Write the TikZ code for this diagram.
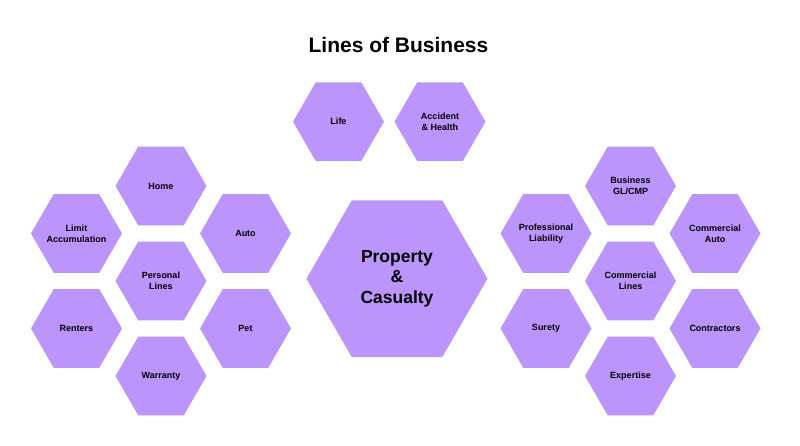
\documentclass[tikz,border=0pt]{standalone}
\usepackage{fontspec}
\setmainfont{Liberation Sans}
\usetikzlibrary{shapes.geometric, positioning}
\definecolor{lavender}{RGB}{187,148,252}

\begin{document}
\begin{tikzpicture} [node distance = 95pt, on grid,
        hex/.style = {regular polygon, regular polygon sides=6, fill=lavender,
            inner sep=0pt, minimum size=91pt, align=center,
            font=\bfseries\fontsize{9}{10.7}\selectfont},
        bighex/.style = {hex, minimum size=181pt,
            font=\bfseries\fontsize{17.5}{20.5}\selectfont}]
        \useasboundingbox (-397pt,-167.3pt) rectangle (403pt,278.7pt);

        \node (pc) [bighex] {Property\\\&\\Casualty};
        \node (title) [above right = 233.7pt and 1.5pt of pc,
            font=\bfseries\fontsize{21}{25}\selectfont] {Lines of Business};
        \node (life) [hex, above left = 157pt and 58.5pt of pc] {Life};
        \node (ah) [hex, above right = 157pt and 43pt of pc] {Accident\\\& Health};

        % personal lines
        \node (pl) [hex, below left = 2.3pt and 236pt of pc] {Personal\\Lines};
        \node (home) [hex, above = of pl] {Home};
        \node (warranty) [hex, below = of pl] {Warranty};
        \node (limit) [hex, above left = 47.5pt and 84.5pt of pl] {Limit\\\makebox[40pt]{Accumulation}};
        \node (auto) [hex, above right = 47.5pt and 84.5pt of pl] {Auto};
        \node (renters) [hex, below left = 47.5pt and 84.5pt of pl] {Renters};
        \node (pet) [hex, below right = 47.5pt and 84.5pt of pl] {Pet};

        % commercial lines
        \node (cl) [hex, below right = 2.3pt and 233.5pt of pc] {Commercial\\Lines};
        \node (gl) [hex, above = of cl] {Business\\GL/CMP};
        \node (expertise) [hex, below = of cl] {Expertise};
        \node (prof) [hex, above left = 47.5pt and 84.5pt of cl] {Professional\\Liability};
        \node (cauto) [hex, above right = 47.5pt and 84.5pt of cl] {Commercial\\Auto};
        \node (surety) [hex, below left = 47.5pt and 84.5pt of cl] {Surety};
        \node (contractors) [hex, below right = 47.5pt and 84.5pt of cl] {Contractors};

    \end{tikzpicture}
\end{document}
